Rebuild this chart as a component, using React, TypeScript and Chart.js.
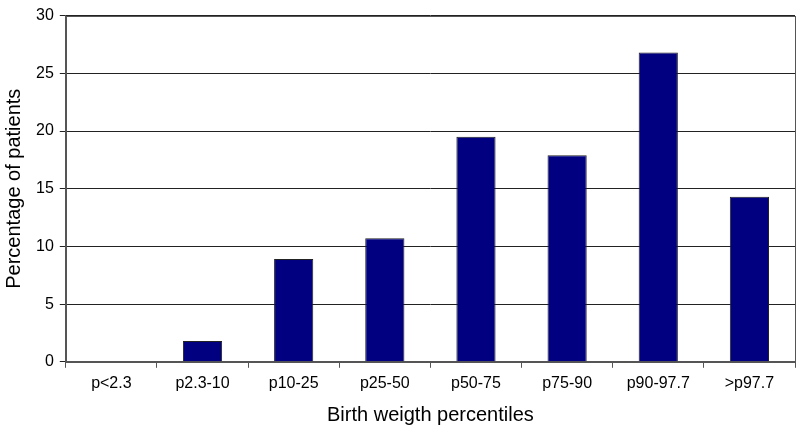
import React, { useEffect, useRef } from "react";
import { Chart, registerables } from "chart.js";

Chart.register(...registerables);

const categories = ["p<2.3", "p2.3-10", "p10-25", "p25-50", "p50-75", "p75-90", "p90-97.7", ">p97.7"];
const percentages = [0, 1.8, 8.9, 10.7, 19.5, 17.9, 26.8, 14.3];
const yTicks = [0, 5, 10, 15, 20, 25, 30];

const frame = {
  id: "frame",
  afterDraw(chart: any) {
    const { ctx, chartArea } = chart;
    ctx.save();
    ctx.strokeStyle = "#555";
    ctx.lineWidth = 1;
    ctx.strokeRect(Math.round(chartArea.left) + 0.5, Math.round(chartArea.top) + 0.5, Math.round(chartArea.right - chartArea.left), Math.round(chartArea.bottom - chartArea.top));
    ctx.restore();
  },
};

export default function App() {
  const ref = useRef<HTMLCanvasElement>(null);
  useEffect(() => {
    document.body.style.margin = "0";
    const chart = new Chart(ref.current!, {
      type: "bar",
      data: {
        labels: categories,
        datasets: [
          {
            data: percentages,
            backgroundColor: "#000080",
            borderColor: "#222",
            borderWidth: 1,
            barPercentage: 1,
            categoryPercentage: 0.43,
          },
        ],
      },
      options: {
        animation: false,
        responsive: false,
        layout: { padding: { top: 14, right: 5, left: 2, bottom: 4 } },
        plugins: { legend: { display: false }, tooltip: { enabled: false } },
        scales: {
          x: {
            grid: { drawOnChartArea: false, color: "#555", tickLength: 6 },
            border: { color: "#555" },
            ticks: { color: "#000", font: { family: "Arial, Liberation Sans", size: 16 }, padding: 6, maxRotation: 0 },
            title: { display: true, text: "Birth weigth percentiles", color: "#000", font: { family: "Arial, Liberation Sans", size: 20 }, padding: { top: 4, bottom: 0 } },
          },
          y: {
            min: 0,
            max: 30,
            afterBuildTicks: (axis: any) => {
              axis.ticks = yTicks.map((v) => ({ value: v }));
            },
            grid: { color: "#222", tickLength: 6 },
            border: { color: "#555" },
            ticks: { color: "#000", font: { family: "Arial, Liberation Sans", size: 16 }, padding: 6 },
            title: { display: true, text: "Percentage of patients", color: "#000", font: { family: "Arial, Liberation Sans", size: 20 }, padding: { top: 0, bottom: 4 } },
          },
        },
      },
      plugins: [frame],
    });
    return () => chart.destroy();
  }, []);
  return (
    <div style={{ width: 800, height: 431, background: "#fff" }}>
      <canvas ref={ref} width={800} height={431} />
    </div>
  );
}
